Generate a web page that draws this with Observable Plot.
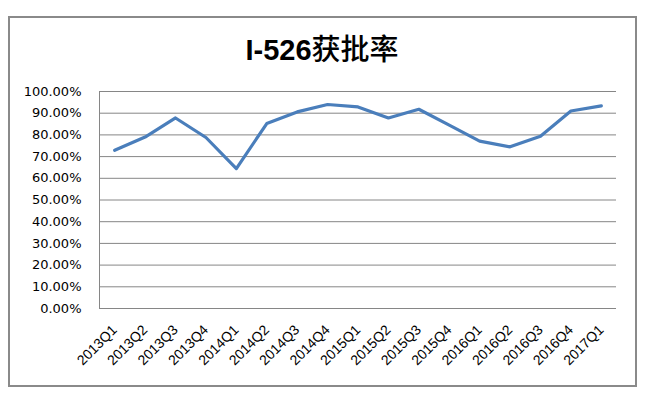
<!DOCTYPE html>
<html>
<head>
<meta charset="utf-8">
<script src="https://cdn.jsdelivr.net/npm/d3@7"></script>
<script src="https://cdn.jsdelivr.net/npm/@observablehq/plot@0.6"></script>
<style>
  html, body { margin: 0; padding: 0; background: #fff; }
  #wrap { position: relative; width: 650px; height: 404px; overflow: hidden; background: #fff; }
  #border { position: absolute; left: 8px; top: 16px; width: 625px; height: 367px; border: 2px solid #8a8a8a; }
  #title { position: absolute; left: 0; width: 644px; top: 28px; text-align: center; font-size: 29px; line-height: 38px; color: #000; }
  #title .lat { font-family: "Liberation Sans", sans-serif; font-weight: bold; }
  #title .cjk { font-family: "Noto Sans CJK SC", sans-serif; font-weight: 500; }
  #chart { position: absolute; left: 0; top: 0; }
</style>
</head>
<body>
<div id="wrap">
  <div id="border"></div>
  <div id="chart"></div>
  <div id="title"><span class="lat">I-526</span><span class="cjk">获批率</span></div>
</div>
<script>
const quarters = ["2013Q1","2013Q2","2013Q3","2013Q4","2014Q1","2014Q2","2014Q3","2014Q4",
                  "2015Q1","2015Q2","2015Q3","2015Q4","2016Q1","2016Q2","2016Q3","2016Q4","2017Q1"];
const approvalRate = [0.729, 0.790, 0.878, 0.788, 0.645, 0.852, 0.906, 0.940,
                      0.929, 0.878, 0.918, 0.845, 0.771, 0.745, 0.794, 0.910, 0.934];
const yTicks = [0, 0.1, 0.2, 0.3, 0.4, 0.5, 0.6, 0.7, 0.8, 0.9, 1.0];

const table = quarters.map((q, i) => ({i, q, v: approvalRate[i]}));

const chart = Plot.plot({
  width: 650,
  height: 404,
  marginLeft: 99,
  marginRight: 34,
  marginTop: 91,
  marginBottom: 96,
  style: {background: "transparent"},
  x: {type: "linear", domain: [-0.5, quarters.length - 0.5]},
  y: {domain: [0, 1]},
  marks: [
    Plot.ruleY(yTicks, {stroke: "#868686", strokeWidth: 1}),
    Plot.ruleX([-0.5], {y1: 0, y2: 1, stroke: "#868686", strokeWidth: 1}),
    Plot.line(table, {x: "i", y: "v", stroke: "#4a7ebb", strokeWidth: 3.2, strokeLinejoin: "round"}),
    Plot.axisY({ticks: yTicks, tickFormat: d3.format(".2%"), tickSize: 0, tickPadding: 18,
      fontSize: 13, fontFamily: "DejaVu Sans", fill: "#000", label: null}),
    Plot.axisX({ticks: d3.range(quarters.length), tickFormat: i => quarters[i], tickRotate: -45,
      tickSize: 0, tickPadding: 19, fontSize: 14, fontFamily: "Liberation Sans", fill: "#000", label: null})
  ]
});
document.getElementById("chart").appendChild(chart);
</script>
</body>
</html>
